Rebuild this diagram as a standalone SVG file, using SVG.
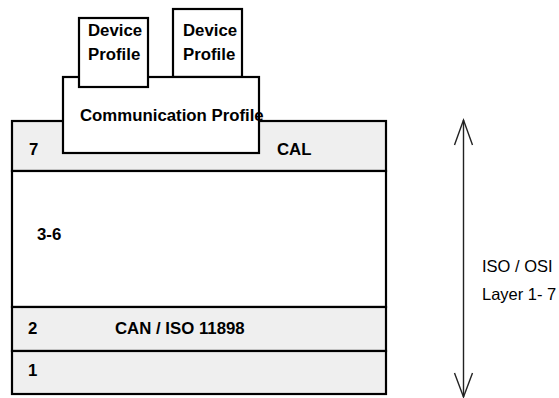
<svg xmlns="http://www.w3.org/2000/svg" width="559" height="398" viewBox="0 0 559 398">
  <style>
    .box { stroke: #000; stroke-width: 2.2; }
    .grey { fill: #efefef; }
    .white { fill: #fff; }
    .lbl { font-family: "Liberation Sans", Arial, Helvetica, sans-serif; font-weight: bold; font-size: 16.8px; fill: #000; }
    .side { font-family: "Liberation Sans", Arial, Helvetica, sans-serif; font-size: 16.5px; fill: #000; }
    .arrow { stroke: #222; stroke-width: 1.4; fill: none; }
  </style>

  <!-- OSI layer stack -->
  <g id="layer7">
    <rect class="box grey" x="12" y="121" width="374" height="50"/>
    <text class="lbl" x="29" y="155">7</text>
  </g>
  <g id="layer3-6">
    <rect class="box white" x="12" y="171" width="374" height="136"/>
    <text class="lbl" x="37" y="240">3-6</text>
  </g>
  <g id="layer2">
    <rect class="box grey" x="12" y="307" width="374" height="44"/>
    <text class="lbl" x="28" y="334">2</text>
    <text class="lbl" x="115" y="334">CAN / ISO 11898</text>
  </g>
  <g id="layer1">
    <rect class="box grey" x="12" y="351" width="374" height="43"/>
    <text class="lbl" x="28" y="376">1</text>
  </g>

  <!-- profiles on top of the application layer -->
  <g id="device-profile-2">
    <rect class="box white" x="173" y="9" width="69" height="68"/>
    <text class="lbl" x="183" y="36">Device</text>
    <text class="lbl" x="183" y="60">Profile</text>
  </g>
  <g id="communication-profile">
    <rect class="box white" x="63" y="77" width="196" height="76"/>
    <text class="lbl" x="80" y="120.5">Communication Profile</text>
  </g>
  <g id="device-profile-1">
    <rect class="box white" x="79" y="18" width="69" height="69"/>
    <text class="lbl" x="88" y="36">Device</text>
    <text class="lbl" x="88" y="60">Profile</text>
  </g>
  <g id="cal-label">
    <text class="lbl" x="277" y="155">CAL</text>
  </g>

  <!-- layer range indicator -->
  <g id="connectors">
    <line class="arrow" x1="463.5" y1="120" x2="463.5" y2="397"/>
    <polyline class="arrow" points="454.5,145 463.5,120 472.5,145"/>
    <polyline class="arrow" points="454.5,373 463.5,397 472.5,373"/>
  </g>
  <g id="iso-osi-label">
    <text class="side" x="482" y="272">ISO / OSI</text>
    <text class="side" x="482" y="300">Layer 1- 7</text>
  </g>
</svg>
